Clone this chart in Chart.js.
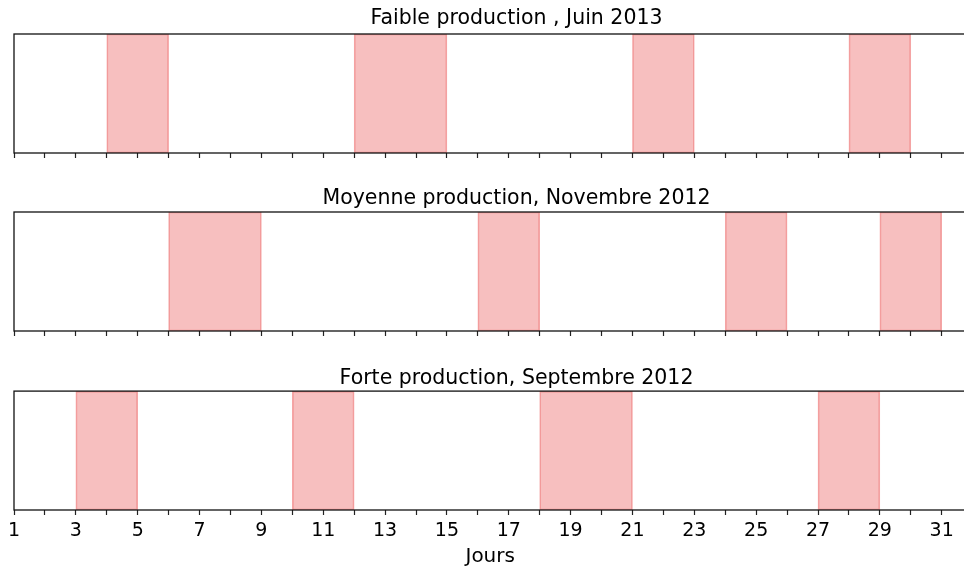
<!DOCTYPE html>
<html>
<head>
<meta charset="utf-8">
<script src="https://cdn.jsdelivr.net/npm/chart.js@4/dist/chart.umd.min.js"></script>
<style>
  html, body { margin: 0; padding: 0; background: #fff; overflow: hidden; }
  body { width: 964px; height: 574px; position: relative; }
  .panel { position: absolute; left: 0; width: 1040px; }
</style>
</head>
<body>
<div class="panel" style="top:0px;height:160px"><canvas id="faible"></canvas></div>
<div class="panel" style="top:180px;height:158px"><canvas id="moyenne"></canvas></div>
<div class="panel" style="top:360px;height:214px"><canvas id="forte"></canvas></div>
<script>
// jours de production (début, fin) pour chaque mois
const faibleJuin2013 = [[4, 6], [12, 15], [21, 23], [28, 30]];
const moyenneNov2012 = [[6, 9], [16, 18], [24, 26], [29, 31]];
const forteSept2012 = [[3, 5], [10, 12], [18, 21], [27, 29]];

const jourMin = 1;
const jourMax = 33.5;
const joursAffiches = [1, 3, 5, 7, 9, 11, 13, 15, 17, 19, 21, 23, 25, 27, 29, 31];

const FONT = "'DejaVu Sans', sans-serif";

// cadre noir autour de la zone de tracé
const cadre = {
    id: 'cadre',
    afterDatasetsDraw(chart) {
        const a = chart.chartArea;
        const ctx = chart.ctx;
        ctx.save();
        ctx.strokeStyle = '#111';
        ctx.lineWidth = 1.3;
        ctx.strokeRect(a.left, a.top, a.right - a.left, a.bottom - a.top);
        ctx.restore();
    }
};

// libellé de l'axe des jours, centré sous la partie visible
const libelleJours = {
    id: 'libelleJours',
    afterDraw(chart) {
        const x = chart.scales.x;
        const ctx = chart.ctx;
        ctx.save();
        ctx.fillStyle = '#000';
        ctx.font = '20px ' + FONT;
        ctx.textAlign = 'center';
        ctx.textBaseline = 'middle';
        ctx.fillText('Jours', x.getPixelForValue(16.4), chart.height - 17);
        ctx.restore();
    }
};

function makeChart(id, titre, periodes, opts) {
    const datasets = periodes.map(p => ({
        data: [p],
        backgroundColor: 'rgba(240,128,128,0.5)',
        borderColor: 'rgba(240,128,128,0.7)',
        borderWidth: 1,
        borderSkipped: false,
        barPercentage: 1,
        categoryPercentage: 1
    }));

    return new Chart(document.getElementById(id), {
        type: 'bar',
        data: { labels: [''], datasets: datasets },
        plugins: opts.labels ? [cadre, libelleJours] : [cadre],
        options: {
            indexAxis: 'y',
            grouped: false,
            responsive: true,
            maintainAspectRatio: false,
            animation: false,
            layout: { padding: { left: 14, right: 21, top: 0, bottom: opts.bottom } },
            plugins: {
                legend: { display: false },
                tooltip: { enabled: false },
                title: {
                    display: true,
                    text: titre,
                    color: '#000',
                    font: { family: FONT, size: 20.5, weight: 'normal' },
                    padding: { top: opts.titleTop, bottom: opts.titleBottom }
                }
            },
            scales: {
                y: { display: false },
                x: {
                    type: 'linear',
                    min: jourMin,
                    max: jourMax,
                    border: { display: false },
                    grid: {
                        drawOnChartArea: false,
                        drawTicks: true,
                        tickLength: 5,
                        tickColor: '#222',
                        tickWidth: 1.2
                    },
                    ticks: {
                        display: opts.labels,
                        stepSize: 1,
                        autoSkip: false,
                        maxRotation: 0,
                        padding: 5,
                        color: '#000',
                        font: { family: FONT, size: 19 },
                        callback: v => joursAffiches.includes(v) ? String(v) : ''
                    },
                    afterFit: s => { s.height = opts.axisHeight; }
                }
            }
        }
    });
}

makeChart('faible', 'Faible production , Juin 2013', faibleJuin2013,
    { labels: false, axisHeight: 5, bottom: 2, titleTop: 6, titleBottom: 3.4 });
makeChart('moyenne', 'Moyenne production, Novembre 2012', moyenneNov2012,
    { labels: false, axisHeight: 5, bottom: 2, titleTop: 6.5, titleBottom: 0.9 });
makeChart('forte', 'Forte production, Septembre 2012', forteSept2012,
    { labels: true, axisHeight: 64, bottom: 0, titleTop: 6.5, titleBottom: 0 });
</script>
</body>
</html>
